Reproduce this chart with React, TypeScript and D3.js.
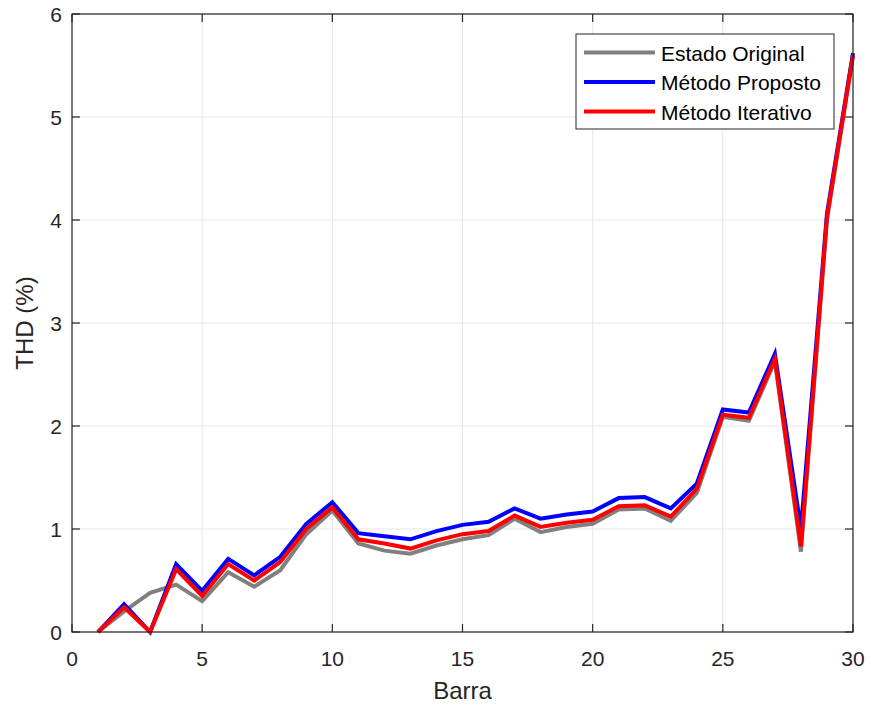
import React from "react";
import * as d3 from "d3";

const barras = d3.range(1, 31);
const estadoOriginal = [0, 0.2, 0.38, 0.46, 0.3, 0.58, 0.44, 0.6, 0.95, 1.18, 0.86, 0.79, 0.76, 0.84, 0.9, 0.94, 1.1, 0.97, 1.02, 1.05, 1.19, 1.2, 1.08, 1.35, 2.09, 2.05, 2.63, 0.78, 4.0, 5.6];
const metodoProposto = [0, 0.27, 0, 0.66, 0.4, 0.71, 0.55, 0.73, 1.05, 1.26, 0.96, 0.93, 0.9, 0.98, 1.04, 1.07, 1.2, 1.1, 1.14, 1.17, 1.3, 1.31, 1.2, 1.44, 2.16, 2.13, 2.7, 1.0, 4.06, 5.62];
const metodoIterativo = [0, 0.24, 0, 0.61, 0.35, 0.66, 0.5, 0.68, 1.0, 1.21, 0.9, 0.86, 0.81, 0.89, 0.95, 0.98, 1.13, 1.02, 1.06, 1.09, 1.22, 1.23, 1.12, 1.39, 2.11, 2.08, 2.65, 0.83, 4.03, 5.6];
const xTicks = [0, 5, 10, 15, 20, 25, 30];
const yTicks = [0, 1, 2, 3, 4, 5, 6];
const seriesNames = ["Estado Original", "Método Proposto", "Método Iterativo"];
const seriesColors = ["#808080", "#0000ff", "#ff0000"];

const W = 871;
const H = 707;
const L = 72, R = 853, T = 14, B = 632;
const FONT = "'Liberation Sans', Arial, Helvetica, sans-serif";
const AX = "#262626";

export default function App() {
  const x = d3.scaleLinear().domain([0, 30]).range([L, R]);
  const y = d3.scaleLinear().domain([0, 6]).range([B, T]);
  const line = d3
    .line<number>()
    .x((_, i) => x(barras[i]))
    .y((d) => y(d));
  const series = [estadoOriginal, metodoProposto, metodoIterativo];
  const tick = 8;

  return (
    <svg
      width={W}
      height={H}
      style={{ position: "absolute", left: 0, top: 0, background: "#fff" }}
      fontFamily={FONT}
    >
      <rect x={0} y={0} width={W} height={H} fill="#fff" />
      {xTicks.map((t) => (
        <line key={"gx" + t} x1={x(t)} x2={x(t)} y1={T} y2={B} stroke="#e6e6e6" strokeWidth={1} />
      ))}
      {yTicks.map((t) => (
        <line key={"gy" + t} x1={L} x2={R} y1={y(t)} y2={y(t)} stroke="#e6e6e6" strokeWidth={1} />
      ))}
      {series.map((s, i) => (
        <path
          key={"s" + i}
          d={line(s) || ""}
          fill="none"
          stroke={seriesColors[i]}
          strokeWidth={4}
          strokeLinejoin="miter"
        />
      ))}
      <rect x={L} y={T} width={R - L} height={B - T} fill="none" stroke={AX} strokeWidth={1.2} />
      {xTicks.map((t) => (
        <g key={"tx" + t}>
          <line x1={x(t)} x2={x(t)} y1={B} y2={B - tick} stroke={AX} strokeWidth={1.2} />
          <line x1={x(t)} x2={x(t)} y1={T} y2={T + tick} stroke={AX} strokeWidth={1.2} />
          <text x={x(t)} y={B + 34} textAnchor="middle" fontSize={21} fill={AX}>
            {t}
          </text>
        </g>
      ))}
      {yTicks.map((t) => (
        <g key={"ty" + t}>
          <line x1={L} x2={L + tick} y1={y(t)} y2={y(t)} stroke={AX} strokeWidth={1.2} />
          <line x1={R} x2={R - tick} y1={y(t)} y2={y(t)} stroke={AX} strokeWidth={1.2} />
          <text x={L - 10} y={y(t) + 8} textAnchor="end" fontSize={21} fill={AX}>
            {t}
          </text>
        </g>
      ))}
      <text x={(L + R) / 2} y={699} textAnchor="middle" fontSize={24} fill={AX}>
        Barra
      </text>
      <text
        transform={`translate(33,${(T + B) / 2}) rotate(-90)`}
        textAnchor="middle"
        fontSize={24}
        fill={AX}
      >
        THD (%)
      </text>
      <rect x={576} y={34} width={258} height={95} fill="#fff" stroke={AX} strokeWidth={1} />
      {seriesNames.map((n, i) => (
        <g key={"lg" + i}>
          <line x1={584} x2={655} y1={52.5 + i * 29.5} y2={52.5 + i * 29.5} stroke={seriesColors[i]} strokeWidth={4} />
          <text x={661} y={52.5 + i * 29.5 + 8} fontSize={21} fill="#000">
            {n}
          </text>
        </g>
      ))}
    </svg>
  );
}
